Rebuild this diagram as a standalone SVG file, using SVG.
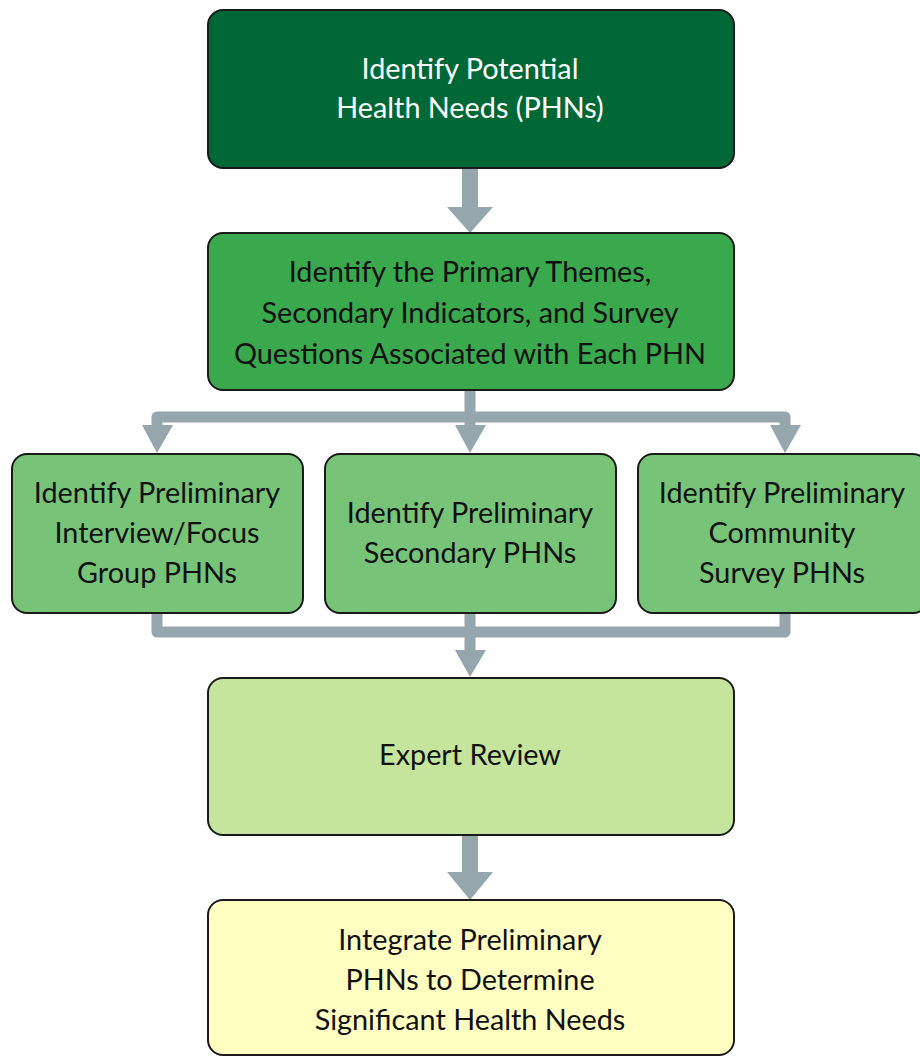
<svg xmlns="http://www.w3.org/2000/svg" width="920" height="1057" viewBox="0 0 920 1057">
<style>
.box{stroke:#1a1a1a;stroke-width:2}
.t{font-family:Lato,"Open Sans",sans-serif;font-size:28.8px;text-anchor:middle;fill:#111}
.w{fill:#fff}
.c{fill:none;stroke:#95a6ad;stroke-width:11;stroke-linejoin:round}
.cs{fill:none;stroke:#95a6ad;stroke-width:16}
.h{fill:#95a6ad}
</style>
<rect width="920" height="1057" fill="#fff"/>
<g id="connectors">
<line class="cs" x1="470" y1="168" x2="470" y2="210"/>
<polygon class="h" points="447,207 493,207 470,233"/>
<path class="c" d="M470,390 V417 M157,428 V417 H785 V428 M470,417 V428"/>
<polygon class="h" points="142,425 173,425 157,453"/>
<polygon class="h" points="455,425 486,425 470,453"/>
<polygon class="h" points="770,425 801,425 785,453"/>
<path class="c" d="M157,613 V632 H785 V613 M470,613 V652"/>
<polygon class="h" points="455,650 486,650 470,677"/>
<line class="cs" x1="470" y1="835" x2="470" y2="875"/>
<polygon class="h" points="447,872 493,872 470,900"/>
</g>
<g id="n1">
<rect class="box" x="208" y="10" width="526" height="158" rx="15" fill="#006837"/>
<text class="t w" x="470" y="79">Identify Potential</text>
<text class="t w" x="470" y="118">Health Needs (PHNs)</text>
</g>
<g id="n2">
<rect class="box" x="208" y="233" width="526" height="157" rx="15" fill="#3aa84c"/>
<text class="t" x="470" y="282">Identify the Primary Themes,</text>
<text class="t" x="470" y="323">Secondary Indicators, and Survey</text>
<text class="t" x="470" y="364">Questions Associated with Each PHN</text>
</g>
<g id="n3">
<rect class="box" x="12" y="454" width="291" height="159" rx="15" fill="#77c479"/>
<text class="t" x="157" y="503">Identify Preliminary</text>
<text class="t" x="157" y="543">Interview/Focus</text>
<text class="t" x="157" y="583">Group PHNs</text>
</g>
<g id="n4">
<rect class="box" x="325" y="454" width="291" height="159" rx="15" fill="#77c479"/>
<text class="t" x="470" y="523">Identify Preliminary</text>
<text class="t" x="470" y="563">Secondary PHNs</text>
</g>
<g id="n5">
<rect class="box" x="638" y="454" width="290" height="159" rx="15" fill="#77c479"/>
<text class="t" x="782" y="503">Identify Preliminary</text>
<text class="t" x="782" y="543">Community</text>
<text class="t" x="782" y="583">Survey PHNs</text>
</g>
<g id="n6">
<rect class="box" x="208" y="678" width="526" height="157" rx="15" fill="#c4e59b"/>
<text class="t" x="470" y="765">Expert Review</text>
</g>
<g id="n7">
<rect class="box" x="208" y="900" width="526" height="155" rx="15" fill="#ffffc2"/>
<text class="t" x="470" y="950">Integrate Preliminary</text>
<text class="t" x="470" y="990">PHNs to Determine</text>
<text class="t" x="470" y="1030">Significant Health Needs</text>
</g>
</svg>
